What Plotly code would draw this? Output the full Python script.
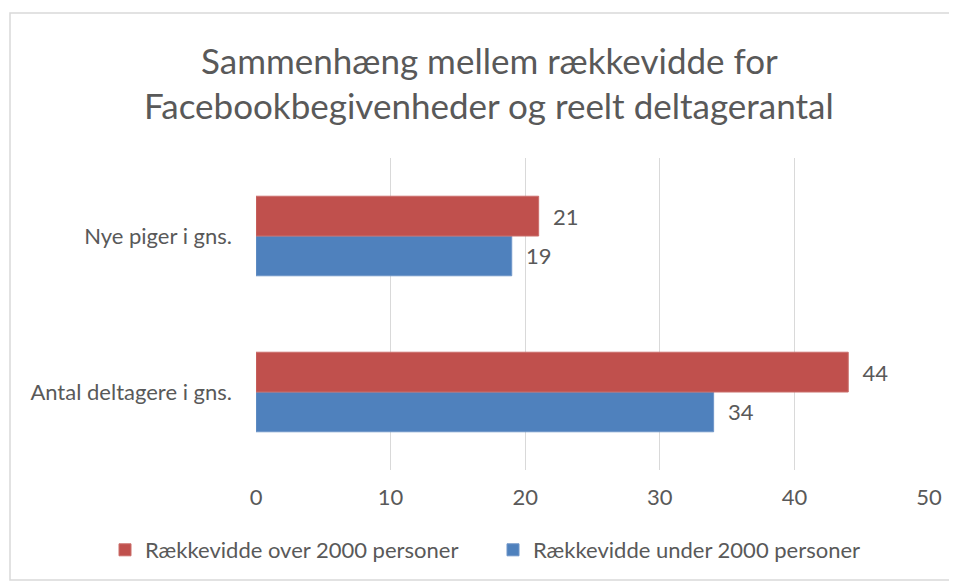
import plotly.graph_objects as go

categories = ["Antal deltagere i gns.", "Nye piger i gns."]
over_2000 = [44, 21]
under_2000 = [34, 19]
series_names = ["Rækkevidde over 2000 personer", "Rækkevidde under 2000 personer"]
title_lines = ["Sammenhæng mellem rækkevidde for", "Facebookbegivenheder og reelt deltagerantal"]
x_ticks = [0, 10, 20, 30, 40, 50]

RED = "#C0504D"
BLUE = "#4F81BD"
TXT = "#595959"
FONT = "Lato"
FS = 22

fig = go.Figure()
fig.add_trace(go.Bar(
    y=categories, x=under_2000, orientation="h", name=series_names[1],
    marker=dict(color=BLUE, line=dict(color="#6E95C8", width=1)),
    text=under_2000, texttemplate="  %{x}", textposition="outside",
    textfont=dict(size=FS, color=TXT, family=FONT), cliponaxis=False,
    legend="legend2",
))
fig.add_trace(go.Bar(
    y=categories, x=over_2000, orientation="h", name=series_names[0],
    marker=dict(color=RED, line=dict(color="#CB6E6B", width=1)),
    text=over_2000, texttemplate="  %{x}", textposition="outside",
    textfont=dict(size=FS, color=TXT, family=FONT), cliponaxis=False,
    legend="legend",
))

# page body has an 8px margin; figure is laid out in page coords minus that offset
OFF = 8
W, H = 949, 575
L, T = 256 - OFF, 158 - OFF
R = W - (929 - OFF)
B = H - (470 - OFF)
pw, ph = W - L - R, H - T - B

def px_x(x):
    return (x - OFF - L) / pw

def px_y(y):
    return (H - B - (y - OFF)) / ph

leg_common = dict(
    orientation="h", xref="container", yref="container",
    xanchor="left", y=1 - (550 - OFF) / H, yanchor="middle",
    font=dict(size=FS, color=TXT, family=FONT),
    itemwidth=30, bgcolor="rgba(0,0,0,0)",
)

fig.update_layout(
    width=W, height=H,
    margin=dict(l=L, r=R, t=T, b=B, autoexpand=False),
    paper_bgcolor="white", plot_bgcolor="white",
    font=dict(family=FONT, color=TXT, size=FS),
    barmode="group", bargap=0.49, bargroupgap=0,
    showlegend=True,
    legend=dict(x=(105 - OFF) / W, **leg_common),
    legend2=dict(x=(493 - OFF) / W, **leg_common),
    xaxis=dict(
        range=[0, 50], tickvals=x_ticks, showgrid=True, gridcolor="#D9D9D9",
        gridwidth=1, zeroline=False, showline=False, ticks="",
        tickfont=dict(size=FS, color=TXT, family=FONT), ticklabelstandoff=12,
    ),
    yaxis=dict(
        showgrid=False, zeroline=False, showline=False, ticks="",
        tickfont=dict(size=FS, color=TXT, family=FONT), ticklabelstandoff=23,
    ),
    shapes=[dict(
        type="rect", xref="paper", yref="paper",
        x0=px_x(10), x1=px_x(950), y0=px_y(580), y1=px_y(13),
        line=dict(color="#D9D9D9", width=1.5), fillcolor="rgba(0,0,0,0)", layer="below",
    )],
    annotations=[
        dict(text=title_lines[0], xref="paper", yref="paper", x=px_x(489), y=px_y(60),
             showarrow=False, xanchor="center", yanchor="middle",
             font=dict(size=35, color=TXT, family=FONT)),
        dict(text=title_lines[1], xref="paper", yref="paper", x=px_x(489), y=px_y(105),
             showarrow=False, xanchor="center", yanchor="middle",
             font=dict(size=35, color=TXT, family=FONT)),
    ],
)

fig.write_html("out.html")
